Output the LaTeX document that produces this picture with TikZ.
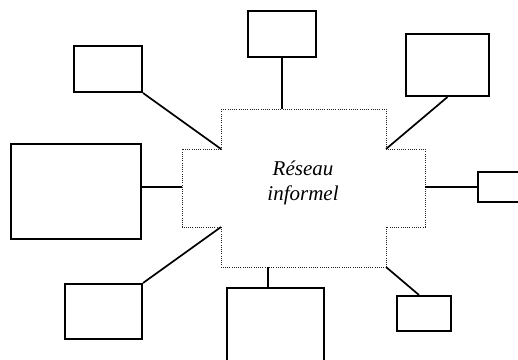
\documentclass[tikz,border=0pt]{standalone}
\usepackage{fontspec}
\setmainfont{Liberation Serif}
\usepackage{tikz}
\usetikzlibrary{positioning}

\begin{document}
\begin{tikzpicture}[x=0.5pt,y=-0.5pt]
\tikzstyle{actor}=[rectangle, draw=black, line width=1pt, inner sep=0pt]
\tikzstyle{hub}=[draw=black!85, line width=0.5pt, dash pattern=on 0.5pt off 0.6pt]
\tikzstyle{link}=[draw=black, line width=0.85pt]
\useasboundingbox (0,0) rectangle (518,359);
\clip (0,0) rectangle (518,359);
	% informal network in the middle
	\draw[hub] (221,109) -- (386,109) -- (386,149) -- (425,149) -- (425,227)
		-- (386,227) -- (386,267) -- (221,267) -- (221,227) -- (182,227)
		-- (182,149) -- (221,149) -- cycle;
	\coordinate (h_nw) at (221,149);
	\coordinate (h_ne) at (386,149);
	\coordinate (h_sw) at (221,227);
	\coordinate (h_se) at (386,267);
	\coordinate (h_n) at (282,109);
	\coordinate (h_s) at (268,267);
	\coordinate (h_w) at (182,187);
	\coordinate (h_e) at (425,187);
	\node[align=center, font=\fontsize{10.5}{12.5}\selectfont\itshape] (reseau) at (303,183) {Réseau\\informel};

	% members around it
	\node[actor, minimum width=34pt, minimum height=23pt] (m_1) at (108,69) {};
	\node[actor, minimum width=34pt, minimum height=23pt] (m_2) at (282,34) {};
	\node[actor, minimum width=41.5pt, minimum height=31pt] (m_3) at (447.5,65) {};
	\node[actor, minimum width=65pt, minimum height=47.5pt] (m_4) at (76,191.5) {};
	\node[actor, minimum width=40pt, minimum height=15pt] (m_5) at (518,187) {};
	\node[actor, minimum width=38.5pt, minimum height=27.5pt] (m_6) at (103.5,311.5) {};
	\node[actor, minimum width=48.5pt, minimum height=56pt] (m_7) at (275.5,344) {};
	\node[actor, minimum width=27pt, minimum height=17.5pt] (m_8) at (424,313.5) {};

	\path
		(m_1.south east) edge [link] (h_nw)
		(m_2.south) edge [link] (h_n)
		(m_3.south) edge [link] (h_ne)
		(h_w -| m_4.east) edge [link] (h_w)
		(h_e) edge [link] (h_e -| m_5.west)
		(m_6.north east) edge [link] (h_sw)
		(h_s) edge [link] (h_s |- m_7.north)
		(h_se) edge [link] ([xshift=-2.5pt]m_8.north);
\end{tikzpicture}
\end{document}
